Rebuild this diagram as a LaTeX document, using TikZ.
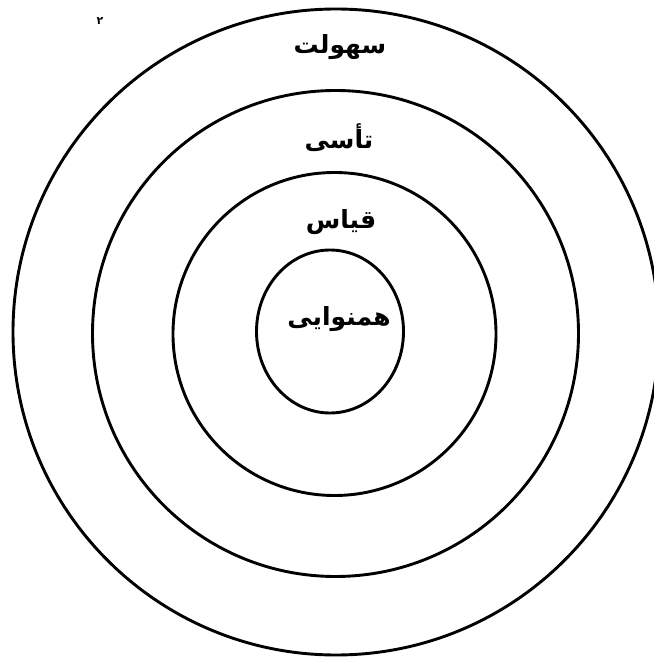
\documentclass[tikz,border=0pt]{standalone}
\usepackage{fontspec}
\TeXXeTstate=1
\newfontfamily\arabicfont[Script=Arabic]{DejaVu Sans}
\begin{document}
\begin{tikzpicture}[x=1pt,y=1pt,
  ring/.style={draw=black,line width=2.9pt},
  lbl/.style={font=\arabicfont\bfseries\fontsize{25}{29}\selectfont,inner sep=0pt,text=black}]
\useasboundingbox (0,0) rectangle (654,657);
\fill[white] (0,0) rectangle (654,657);
\begin{scope}
\clip (0,0) rectangle (654,657);
\draw[ring] (336,325) circle[radius=323];
\draw[ring] (335.5,323.5) circle[radius=243];
\draw[ring] (334.5,323) circle[radius=161.5];
\draw[ring] (330,325.5) ellipse[x radius=73.5,y radius=81.5];
\end{scope}
\node[lbl] (sohulat) at (340,610) {\beginR سهولت\endR};
\node[lbl] (taassi) at (339,519) {\beginR تأسی\endR};
\node[lbl] (qiyas) at (341,435) {\beginR قیاس\endR};
\node[lbl] (hamnavayi) at (339,338) {\beginR همنوایی\endR};
\node[font=\arabicfont\bfseries\fontsize{11}{12}\selectfont,inner sep=0pt] (mark) at (100,636) {۲};
\end{tikzpicture}
\end{document}
